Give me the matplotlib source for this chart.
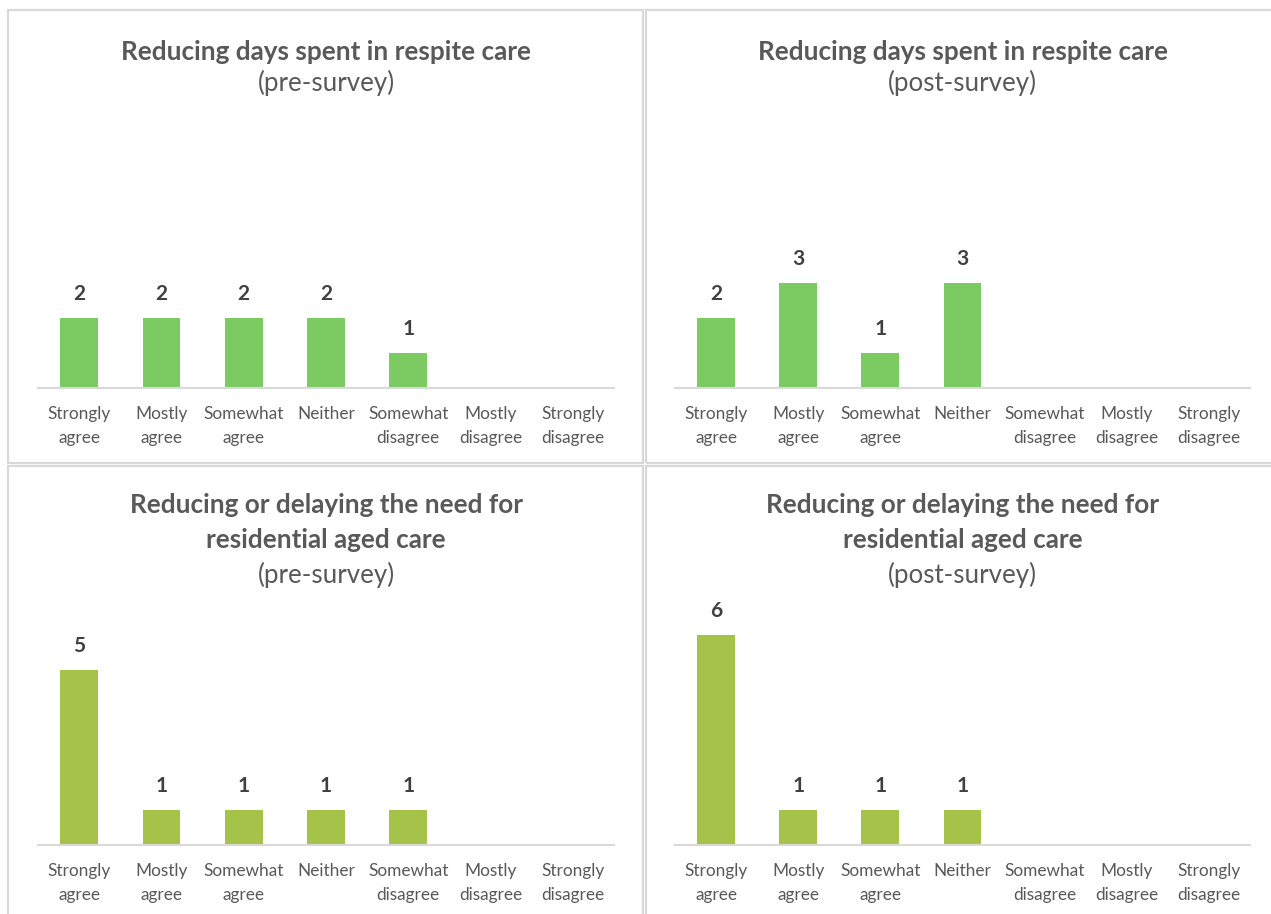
import matplotlib.pyplot as plt
from matplotlib.patches import Rectangle

# Response categories (shared by all four charts)
categories = ['Strongly\nagree', 'Mostly\nagree', 'Somewhat\nagree', 'Neither',
              'Somewhat\ndisagree', 'Mostly\ndisagree', 'Strongly\ndisagree']

# Counts per category
respite_pre = [2, 2, 2, 2, 1, 0, 0]
respite_post = [2, 3, 1, 3, 0, 0, 0]
residential_pre = [5, 1, 1, 1, 1, 0, 0]
residential_post = [6, 1, 1, 1, 0, 0, 0]

title_respite = ['Reducing days spent in respite care']
title_residential = ['Reducing or delaying the need for', 'residential aged care']

GREEN = '#7CCA62'
OLIVE = '#A5C249'
GRID = '#D9D9D9'
TEXT = '#595959'
LABEL = '#404040'

W, H = 1271, 914
plt.rcParams['font.family'] = ['Lato', 'DejaVu Sans']

fig = plt.figure(figsize=(W / 100, H / 100), dpi=100)
fig.patch.set_facecolor('white')


def fx(x):
    return x / W


def fy(y):
    return 1 - y / H


# panel frames
for (x0, y0, x1, y1) in [(8, 10, 643, 463), (646, 10, 1281, 463),
                         (8, 466, 643, 924), (646, 466, 1281, 924)]:
    fig.patches.append(Rectangle((fx(x0), fy(y1)), fx(x1 - x0), (y1 - y0) / H,
                                 transform=fig.transFigure, fill=False,
                                 edgecolor=GRID, linewidth=1.6))

PX_PER_UNIT = 35
YMAX = 7


def draw_panel(left, right, base, values, color, title, subtitle,
               title_baseline, sub_baseline):
    ax = fig.add_axes([fx(left), fy(base), fx(right - left), YMAX * PX_PER_UNIT / H])
    x = range(len(categories))
    ax.bar(x, values, width=0.46, color=color, zorder=2)
    ax.set_xlim(-0.5, len(categories) - 0.5)
    ax.set_ylim(0, YMAX)
    ax.set_yticks([])
    ax.set_xticks(list(x))
    ax.set_xticklabels(categories, fontsize=12.4, color=TEXT, linespacing=1.6)
    ax.tick_params(axis='x', length=0, pad=13)
    for side in ['top', 'right', 'left']:
        ax.spines[side].set_visible(False)
    ax.spines['bottom'].set_color(GRID)
    ax.spines['bottom'].set_linewidth(1.5)
    ax.patch.set_alpha(0)
    for i, v in enumerate(values):
        if v > 0:
            ax.annotate(str(v), (i, v), xytext=(0, 13), textcoords='offset points',
                        ha='center', va='baseline', fontsize=15, fontweight='bold',
                        color=LABEL)
    cx = fx((left + right) / 2)
    y = title_baseline
    for line in title:
        fig.text(cx, fy(y), line, ha='center', va='baseline', fontsize=18.8,
                 fontweight='bold', color=TEXT)
        y += 35
    fig.text(cx, fy(sub_baseline), subtitle, ha='center', va='baseline',
             fontsize=18.6, color=TEXT)
    return ax


draw_panel(38, 614, 388, respite_pre, GREEN, title_respite, '(pre-survey)', 60, 91.5)
draw_panel(675, 1250, 388, respite_post, GREEN, title_respite, '(post-survey)', 60, 91.5)
draw_panel(38, 614, 845, residential_pre, OLIVE, title_residential, '(pre-survey)', 513, 583)
draw_panel(675, 1250, 845, residential_post, OLIVE, title_residential, '(post-survey)', 513, 583)

fig.savefig('out.png', dpi=100)
